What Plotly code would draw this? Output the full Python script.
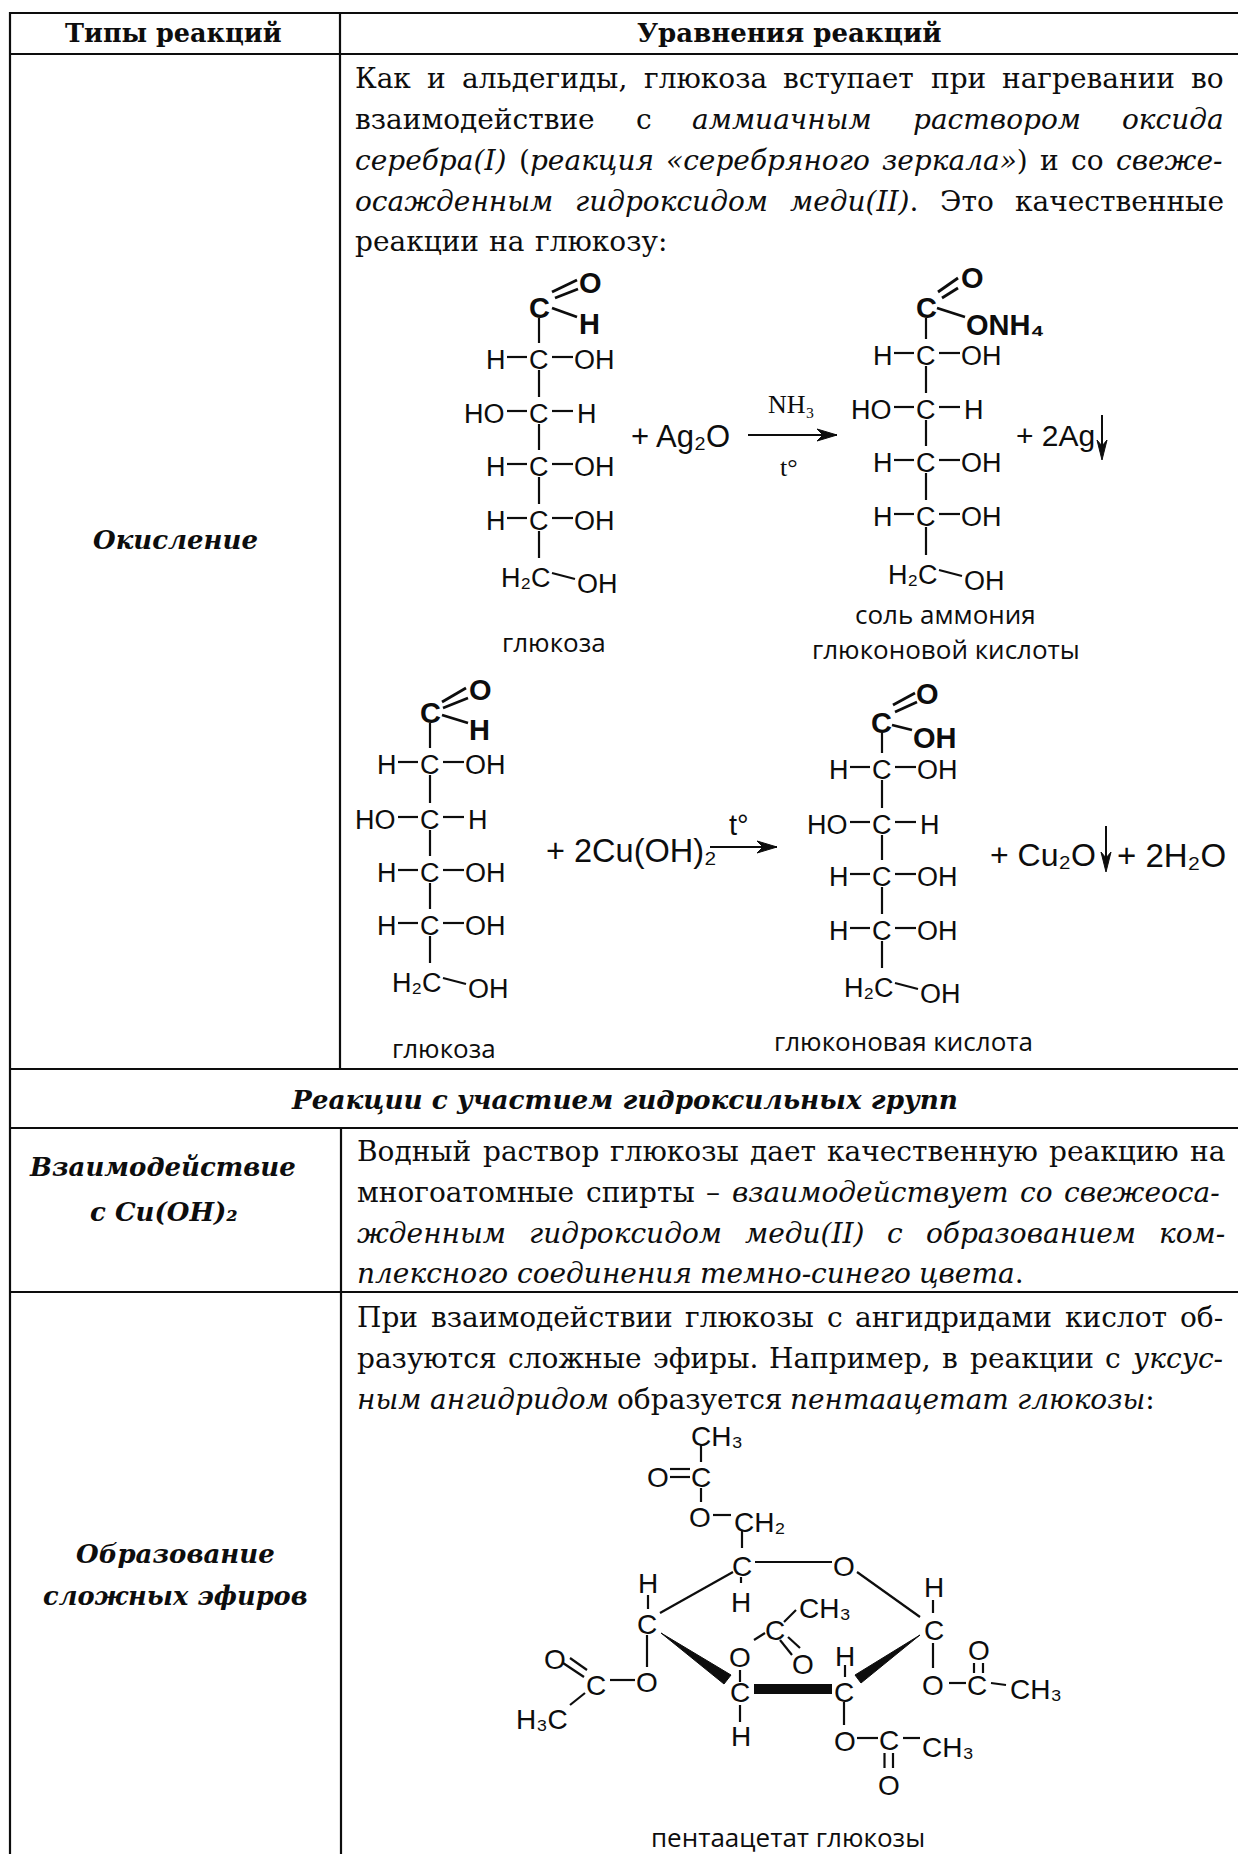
import glob
import re
import struct
import plotly.graph_objects as go

INK = "#0d0d0d"
SERIF = "DejaVu Serif"
SANS = "Liberation Sans"
CAPTION = "Open Sans"
BODY_SIZE = 28

# table rules: (x0, y0, x1, y1)
TABLE_RULES = [
    (9, 13, 1238, 13), (10, 54, 1238, 54), (10, 1069, 1238, 1069), (10, 1128, 1238, 1128),
    (10, 1292, 1238, 1292), (10, 12, 10, 1854), (340, 12, 340, 1069), (341, 1128, 341, 1854),
]

# body text lines: y, left, right, words (_ marks italic)
BODY_Y = [78, 119, 160, 201, 241, 1151, 1192, 1233, 1273, 1317, 1358, 1399]
BODY_X0 = [355, 355, 355, 355, 355, 357, 357, 357, 357, 357, 357, 357]
BODY_X1 = [1224, 1224, 1222, 1224, 667, 1225, 1220, 1225, 1024, 1223, 1222, 1155]
BODY_TEXT = [
    "Как и альдегиды, глюкоза вступает при нагревании во",
    "взаимодействие с _аммиачным _раствором _оксида",
    "_серебра(I) (<i>реакция</i> _«серебряного <i>зеркала»</i>) и со _свеже-",
    "_осажденным _гидроксидом <i>меди(II)</i>. Это качественные",
    "реакции на глюкозу:",
    "Водный раствор глюкозы дает качественную реакцию на",
    "многоатомные спирты – _взаимодействует _со _свежеоса-",
    "_жденным _гидроксидом _меди(II) _с _образованием _ком-",
    "_плексного _соединения _темно-синего <i>цвета</i>.",
    "При взаимодействии глюкозы с ангидридами кислот об-",
    "разуются сложные эфиры. Например, в реакции с _уксус-",
    "_ным _ангидридом образуется _пентаацетат <i>глюкозы</i>:",
]

# headings: text, x, y, size
HEADINGS = [
    ("<b>Типы реакций</b>", 173, 33, 25.5),
    ("<b>Уравнения реакций</b>", 789, 33, 26),
    ("<b><i>Окисление</i></b>", 175, 540, 26),
    ("<b><i>Реакции с участием гидроксильных групп</i></b>", 624, 1099, 26.3),
    ("<b><i>Взаимодействие</i></b>", 162, 1167, 26),
    ("<b><i>с Cu(OH)₂</i></b>", 164, 1212, 26),
    ("<b><i>Образование</i></b>", 175, 1554, 26),
    ("<b><i>сложных эфиров</i></b>", 175, 1596, 25.7),
]

# open-chain structures
CHAIN_X = [539, 926, 430, 882]
CHAIN_TOP = [308, 308, 713, 723]
CHAIN_ROWS = [[360, 414, 467, 521], [356, 410, 463, 517], [765, 820, 873, 926], [770, 825, 877, 931]]
CHAIN_BASE = [575, 572, 980, 985]
TOP_LABELS = [
    ("O", 590, 283), ("C", 539, 308), ("H", 589, 324),
    ("O", 972, 278), ("C", 926, 308), ("ONH₄", 1005, 325),
    ("O", 480, 690), ("C", 430, 713), ("H", 479, 730),
    ("O", 927, 694), ("C", 881, 723), ("OH", 935, 738),
]
TOP_BONDS = [
    (552, 292, 577, 280), (555, 298, 578, 289), (552, 308, 577, 317),
    (938, 292, 958, 278), (942, 298, 958, 288), (937, 308, 965, 317),
    (442, 702, 466, 688), (443, 708, 468, 698), (442, 715, 468, 723),
    (893, 705, 915, 693), (895, 712, 917, 702), (892, 725, 912, 730),
]

# reagents and captions
FORMULAS = [
    ("+ Ag₂O", 680, 436, 31), ("+ 2Ag", 1055, 435, 30),
    ("+ 2Cu(OH)₂", 631, 851, 32.5), ("+ Cu₂O", 1043, 855, 32), ("+ 2H₂O", 1171, 855, 33),
]
SERIF_NOTES = [("NH₃", 791, 404), ("t°", 789, 467)]
SANS_NOTES = [("t°", 739, 825)]
CAPTIONS = [
    ("глюкоза", 554, 642), ("соль аммония", 945, 614), ("глюконовой кислоты", 946, 649),
    ("глюкоза", 444, 1048), ("глюконовая кислота", 903, 1041), ("пентаацетат глюкозы", 788, 1837),
]
ARROWS = [
    (748, 435, 837, 435), (710, 847, 777, 847),
]
DOWN_ARROWS = [(1102, 415, 460), (1106, 826, 872)]

# pentaacetate
RING_LABELS = [
    ("CH₃", 717, 1436), ("C", 701, 1477), ("O", 658, 1477), ("O", 700, 1517),
    ("CH₂", 759, 1522), ("C", 742, 1566), ("O", 844, 1566), ("H", 741, 1602),
    ("H", 648, 1583), ("C", 647, 1624), ("H", 934, 1587), ("C", 934, 1630),
    ("C", 740, 1692), ("C", 844, 1692), ("H", 741, 1736), ("O", 647, 1682),
    ("C", 596, 1685), ("O", 555, 1659), ("H₃C", 542, 1719), ("O", 740, 1657),
    ("C", 775, 1630), ("CH₃", 825, 1608), ("O", 803, 1664), ("H", 845, 1656),
    ("O", 845, 1741), ("C", 889, 1740), ("CH₃", 948, 1747), ("O", 889, 1785),
    ("O", 933, 1685), ("C", 977, 1685), ("CH₃", 1036, 1689), ("O", 979, 1650),
]
RING_BONDS = [
    (670, 1469, 690, 1469), (670, 1477, 690, 1477), (701, 1445, 701, 1462), (701, 1488, 701, 1502),
    (713, 1515, 731, 1515), (742, 1530, 742, 1548), (755, 1562, 832, 1562), (741, 1577, 741, 1583),
    (648, 1595, 648, 1609), (733, 1572, 660, 1613), (857, 1572, 920, 1617), (933, 1600, 933, 1613),
    (740, 1705, 740, 1722), (647, 1635, 647, 1667), (610, 1680, 635, 1680), (563, 1663, 584, 1677),
    (570, 1658, 587, 1670), (585, 1693, 570, 1705), (740, 1670, 740, 1682), (754, 1640, 765, 1633),
    (784, 1622, 796, 1610), (780, 1640, 792, 1655), (788, 1637, 800, 1648), (845, 1665, 845, 1677),
    (844, 1702, 844, 1725), (857, 1738, 878, 1738), (903, 1738, 920, 1738), (884.5, 1753, 884.5, 1768),
    (893, 1753, 893, 1768), (933, 1643, 933, 1668), (949, 1683, 966, 1683), (991, 1683, 1006, 1685),
    (974, 1663, 974, 1673), (983, 1663, 983, 1673),
]
WEDGE_X = [[661, 731, 724, 661], [920, 855, 861, 920]]
WEDGE_Y = [[1633, 1675, 1684, 1633], [1635, 1675, 1683, 1635]]
THICK_BOND = (754, 1689, 832, 1689)

WIDE = set("жмшщыюфЖМШЩЫЮФ")


def load_advances(pattern):
    """Character advances (em) read from a TrueType font's cmap and hmtx, or None."""
    try:
        paths = glob.glob(pattern, recursive=True)
        data = open(paths[0], "rb").read()
        num = struct.unpack(">H", data[4:6])[0]
        tables = {}
        for i in range(num):
            rec = data[12 + 16 * i:28 + 16 * i]
            tables[rec[:4]] = struct.unpack(">I", rec[8:12])[0]
        units = struct.unpack(">H", data[tables[b"head"] + 18:tables[b"head"] + 20])[0]
        hmetrics = struct.unpack(">H", data[tables[b"hhea"] + 34:tables[b"hhea"] + 36])[0]
        cmap = tables[b"cmap"]
        offset = None
        for i in range(struct.unpack(">H", data[cmap + 2:cmap + 4])[0]):
            pid, eid, off = struct.unpack(">HHI", data[cmap + 4 + 8 * i:cmap + 12 + 8 * i])
            if pid == 3 and eid == 1:
                offset = cmap + off
        seg = struct.unpack(">H", data[offset + 6:offset + 8])[0] // 2
        ends = struct.unpack(f">{seg}H", data[offset + 14:offset + 14 + 2 * seg])
        base = offset + 16 + 2 * seg
        starts = struct.unpack(f">{seg}H", data[base:base + 2 * seg])
        deltas = struct.unpack(f">{seg}H", data[base + 2 * seg:base + 4 * seg])
        ro_pos = base + 4 * seg
        ros = struct.unpack(f">{seg}H", data[ro_pos:ro_pos + 2 * seg])
        result = {}
        for k in range(seg):
            for code in range(starts[k], ends[k] + 1):
                if code == 0xFFFF or not (32 <= code < 0x500 or 0x2000 <= code < 0x2100):
                    continue
                if ros[k] == 0:
                    gid = (code + deltas[k]) & 0xFFFF
                else:
                    p = ro_pos + 2 * k + ros[k] + 2 * (code - starts[k])
                    gid = struct.unpack(">H", data[p:p + 2])[0]
                    if gid:
                        gid = (gid + deltas[k]) & 0xFFFF
                h = tables[b"hmtx"] + 4 * min(gid, hmetrics - 1)
                result[chr(code)] = struct.unpack(">H", data[h:h + 2])[0] / units
        return result
    except Exception:
        return None


ADV_REGULAR = load_advances("/usr/share/fonts/**/DejaVuSerif.ttf")
ADV_ITALIC = load_advances("/usr/share/fonts/**/DejaVuSerif-Italic.ttf") or ADV_REGULAR


def word_width(word):
    """DejaVu Serif advance of a word in px (from the font when it can be read)."""
    italic = word.startswith("_") or "<i>" in word
    plain = re.sub(r"<[^>]+>|^_", "", word)
    table = ADV_ITALIC if italic else ADV_REGULAR
    total = 0.0
    for ch in plain:
        if table and ch in table:
            total += table[ch]
        elif ch in WIDE:
            total += 0.87
        elif ch in ".,:;":
            total += 0.32
        elif ch in "()-«»–I":
            total += 0.42
        elif ch.isupper():
            total += 0.74
        else:
            total += 0.61
    return total * BODY_SIZE


fig = go.Figure()


def segs(items, width=2.0, color=INK):
    xs, ys = [], []
    for x0, y0, x1, y1 in items:
        xs += [x0, x1, None]
        ys += [y0, y1, None]
    fig.add_trace(go.Scatter(x=xs, y=ys, mode="lines", line=dict(color=color, width=width),
                             hoverinfo="skip", showlegend=False))


annots = []


def text(s, x, y, size, family, anchor="center"):
    annots.append(dict(x=x, y=y, xref="x", yref="y", text=s, showarrow=False, xanchor=anchor,
                       yanchor="middle", font=dict(family=family, size=size, color=INK),
                       borderpad=0, borderwidth=0))


segs(TABLE_RULES, 2.2)

for y, x0, x1, line in zip(BODY_Y, BODY_X0, BODY_X1, BODY_TEXT):
    words = line.split(" ")
    widths = [word_width(w) for w in words]
    gap = (x1 - x0 - sum(widths)) / max(len(words) - 1, 1)
    x = x0
    for w, wd in zip(words, widths):
        label = f"<i>{w[1:]}</i>" if w.startswith("_") else w
        text(label, x + wd / 2, y, BODY_SIZE, SERIF)
        x += wd + gap

for s, x, y, size in HEADINGS:
    text(s, x, y, size, SERIF)

chain_bonds = []
for i, (cx, top, rows, base) in enumerate(zip(CHAIN_X, CHAIN_TOP, CHAIN_ROWS, CHAIN_BASE)):
    prev = top
    for j, ry in enumerate(rows):
        chain_bonds.append((cx, prev + 10, cx, ry - 17))
        chain_bonds.append((cx - 32, ry - 3, cx - 12, ry - 3))
        chain_bonds.append((cx + 13, ry - 3, cx + 34, ry - 3))
        text("C", cx, ry, 27, SANS)
        if j == 1:
            text("HO", cx - 55, ry, 27, SANS)
            text("H", cx + 48, ry, 27, SANS)
        else:
            text("H", cx - 43, ry, 27, SANS)
            text("OH", cx + 55, ry, 27, SANS)
        prev = ry
    chain_bonds.append((cx, prev + 10, cx, base - 17))
    chain_bonds.append((cx + 13, base - 2, cx + 36, base + 4))
    text("H₂C", cx - 14, base + 3, 27, SANS)
    text("OH", cx + 58, base + 9, 27, SANS)
segs(chain_bonds, 2.2)
segs(TOP_BONDS, 2.8)
for s, x, y in TOP_LABELS:
    text(f"<b>{s}</b>", x, y, 29, SANS)
for s, x, y, size in FORMULAS:
    text(s, x, y, size, SANS)
for s, x, y in SERIF_NOTES:
    text(s, x, y, 26, "Liberation Serif")
for s, x, y in SANS_NOTES:
    text(s, x, y, 29, SANS)
for s, x, y in CAPTIONS:
    text(s, x, y, 26, CAPTION)

segs(ARROWS, 1.8)
for x0, y0, x1, y1 in ARROWS:
    fig.add_trace(go.Scatter(x=[x1 - 20, x1, x1 - 20, x1 - 14, x1 - 20], y=[y0 - 6, y0, y0 + 6, y0, y0 - 6],
                             mode="lines", fill="toself", fillcolor=INK, line=dict(color=INK, width=1),
                             hoverinfo="skip", showlegend=False))
for x, y0, y1 in DOWN_ARROWS:
    segs([(x, y0, x, y1 - 5)], 2.0)
    fig.add_trace(go.Scatter(x=[x - 5, x, x + 5, x, x - 5], y=[y1 - 20, y1, y1 - 20, y1 - 14, y1 - 20],
                             mode="lines", fill="toself", fillcolor=INK, line=dict(color=INK, width=1),
                             hoverinfo="skip", showlegend=False))

segs(RING_BONDS, 2.2)
segs([THICK_BOND], 10)
for wx, wy in zip(WEDGE_X, WEDGE_Y):
    fig.add_trace(go.Scatter(x=wx, y=wy, mode="lines", fill="toself", fillcolor=INK,
                             line=dict(color=INK, width=1), hoverinfo="skip", showlegend=False))
for s, x, y in RING_LABELS:
    text(s, x, y, 28, SANS)

fig.update_layout(
    width=1238, height=1854, margin=dict(l=0, r=0, t=0, b=0), paper_bgcolor="white", plot_bgcolor="white",
    xaxis=dict(range=[0, 1238], visible=False, fixedrange=True),
    yaxis=dict(range=[1854, 0], visible=False, fixedrange=True),
    annotations=annots, showlegend=False,
)
fig.write_html("out.html", config={"displayModeBar": False},
               post_script="document.body.style.margin='0';document.documentElement.style.overflow='hidden';")
